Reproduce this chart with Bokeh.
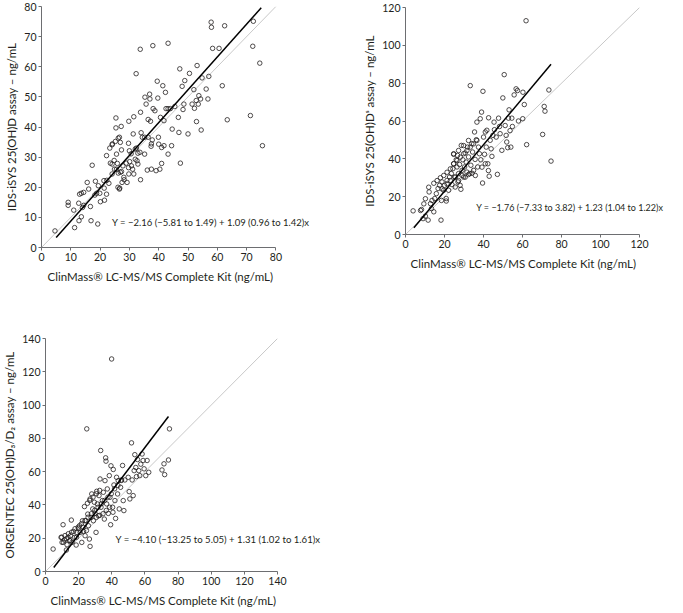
from bokeh.plotting import figure
from bokeh.layouts import column, row
from bokeh.models import Label, FixedTicker, Range1d, Title
from bokeh.embed import file_html
from bokeh.resources import INLINE

FONT = "Lato"

# ---------------- Panel 1: IDS-iSYS 25(OH)D ----------------
p1_x = [4.6, 9.1, 9.1, 11, 11.3, 12.7, 13, 13.6, 12.8, 13.6, 14, 14.4, 14.4, 15.6, 16.1, 16.7, 16.9, 17.3, 18.4, 19.2,
        18.8, 19.4, 20.1, 21.5, 21.3, 22.2, 22.2, 23, 23.3, 24.1, 24.1, 24.1, 24.9, 25.4, 25.4, 25.6, 25.9, 26.1, 26.6, 26.6,
        26.9, 27.2, 26.9, 27.5, 28.1, 29.2, 29.8, 29.8, 30, 30.1, 30.7, 31.3, 31.5, 31.5, 32, 32.3, 32.6, 32.9, 33.6, 33.7,
        33.8, 33.8, 34.4, 35.2, 35.3, 35.7, 36.1, 36.4, 36.9, 37, 37.2, 37.4, 37.5, 37.8, 38, 38.1, 38.7, 39.1, 39.5, 39.7,
        39.9, 40, 40.4, 40.6, 41, 41, 41.4, 41.8, 41.8, 42.3, 42.5, 43.2, 43.2, 43.2, 44, 44.4, 44.6, 45.5, 46.7, 46.9,
        47.2, 47.4, 48, 48.3, 48.6, 48.9, 50, 50.5, 51.4, 52, 52.2, 52.8, 52.9, 53.1, 53.5, 53.7, 54.3, 54.5, 54.8, 56.2,
        56.8, 57.1, 57.9, 58, 58.4, 60.6, 61.7, 62.5, 63.4, 71.3, 72.1, 72.3, 74.5, 75.4,
        23.5, 24.8, 25.6, 26.2, 27.3, 27.8, 28.9, 29.7, 30.6, 31.1, 32, 32.9, 28.2, 26.7, 22.3, 21.4, 19.9, 18.2,
        24.2, 25.2, 26.2, 27.3, 29.7, 32.4, 34, 35.2, 36.4, 37.5]
p1_y = [5.5, 15, 14, 12.4, 6.6, 14.7, 17.7, 18, 8.9, 10.2, 13.3, 14, 18.3, 21.6, 19.4, 13.6, 8.9, 27.3, 22, 7.8,
        18, 20.5, 15.2, 15.7, 22.2, 30.5, 17.7, 21.3, 33, 34.1, 27.7, 24.4, 26, 43, 39.7, 31, 27.9, 20, 19.4, 36.6,
        34.9, 40.2, 25, 21.6, 23.3, 21.6, 41.9, 24.4, 32.1, 28.5, 27.1, 37.7, 43.4, 24.4, 32.7, 57.7, 28.8, 27.7, 31.6, 65.8,
        44.9, 22.5, 36.6, 31, 49.9, 47.6, 25.7, 42.5, 50.9, 49.3, 41.9, 33.6, 26, 35.7, 67, 46.1, 45.4, 25.5, 55.2, 49.6,
        36.6, 34.3, 26, 43.2, 33.2, 27.9, 53.7, 42.1, 33.8, 51.5, 46.1, 67.8, 46.1, 31, 46.1, 33.8, 39.3, 46.8, 43.2, 38.2,
        59.3, 28, 53.5, 45.8, 47.6, 55.4, 37.7, 57.8, 47.6, 52.4, 46.2, 48.8, 41.8, 60.4, 47.6, 50.4, 49.3, 39, 56.3, 52.6,
        49.3, 56.8, 74.8, 73.1, 66.1, 66.1, 53.7, 73.6, 42.4, 43.8, 66.8, 75.1, 61.2, 33.8,
        28, 28.9, 26, 24.7, 25.2, 27.1, 28, 26.5, 31.1, 26, 29.3, 31.3, 22.5, 19.7, 22.3, 19.7, 18, 17.4,
        34.4, 35.2, 36.3, 32.4, 34.6, 33, 38.1, 36.6, 36.6, 34.4]
p1_intercept, p1_slope = -2.16, 1.09
p1_fit_x = [5, 75]

# ---------------- Panel 2: IDS-iSYS 25(OH)DS ----------------
p2_x = [3.9, 8.2, 9, 10.2, 11.6, 12.1, 12.8, 13.3, 13.6, 14.5, 15, 15.8, 16.7, 17.5, 18.2, 18.7, 18.4, 19.6, 20, 20.9,
        20.9, 21.3, 22.1, 22.6, 23.5, 23.8, 24.3, 24.7, 24.7, 25.2, 25.5, 26, 26.4, 26.7, 26.9, 27.2, 27.7, 28, 28.4, 28.6,
        29, 29.4, 29.8, 30.3, 30.6, 31.1, 31.5, 31.8, 32.3, 32.9, 33.2, 33.5, 34, 34.4, 34.9, 35.4, 35.7, 36.3, 36.6, 37,
        37.4, 37.9, 38.3, 38.6, 39, 39.5, 39.7, 40, 40.5, 40.9, 41.4, 41.7, 42.2, 42.6, 42.9, 43.4, 43.9, 44.3, 44.8, 45.4,
        45.6, 46.5, 47.1, 47.7, 48.2, 48.5, 49.4, 49.9, 50.6, 51.1, 51.6, 51.9, 52.4, 52.8, 53.1, 53.6, 54, 54.5, 54.8, 55.7,
        56.7, 57.4, 57.9, 60.2, 60.9, 61.8, 62.1, 60.1, 70.3, 71.1, 71.5, 73.5, 74.6,
        11.9, 14.5, 16.2, 17.9, 19.6, 21.3, 23, 24.7, 26.4, 28.1, 29.8, 31.5, 33.2, 34.9, 36.6, 25.5, 27.2, 29, 30.6, 32.3,
        34.1, 35.8, 21.3, 23, 18.7, 24.7, 27.2, 29.8, 32.3, 39.2, 40.9, 42.5, 7.7, 9.4, 10.2]
p2_y = [12.5, 13.2, 8.4, 9.7, 7.6, 22.5, 16.3, 13.7, 18, 12, 19, 21.6, 24.3, 26, 7.6, 27.8, 18, 23.4, 26, 19,
        17.7, 28.6, 23.4, 30.4, 32.2, 26.4, 34.8, 37.4, 42.4, 30.4, 25.1, 39.5, 35.7, 41.8, 27.8, 32.2, 37, 26, 23.9, 47.1,
        33.9, 39.5, 30.4, 35.7, 43.1, 38.3, 33, 46.2, 41, 32.2, 78.7, 36.6, 48, 43.6, 33.9, 54.2, 39.7, 50.1, 59.4, 35.7,
        46.2, 42.7, 61.2, 39.5, 64.7, 27.2, 75.7, 51.5, 42.4, 54.2, 46.2, 55.1, 37.4, 61.7, 30.8, 49.8, 45.3, 41.3, 52.4, 59.4,
        55.4, 51.5, 31.8, 61.5, 57.1, 53.3, 44.5, 72.2, 84.5, 57.6, 52.4, 48.9, 45.9, 61.5, 65.9, 54.9, 46.2, 61.5, 57.1, 73.8,
        77, 76.1, 60, 75.2, 68.7, 113, 47.5, 61.2, 52.9, 67.7, 65.2, 76.4, 38.8,
        25, 27.1, 28.5, 30, 31.2, 32.9, 34.7, 37.4, 39.1, 40.9, 42.7, 44.4, 46.2, 47.9, 49.7, 30.3, 28.5, 31.2, 30.3, 31.7,
        32.4, 31.2, 26.8, 28.5, 24.1, 42.7, 44.4, 47, 49.7, 35.6, 37.4, 33.8, 12.7, 16.2, 18.9]
p2_intercept, p2_slope = -1.76, 1.23
p2_fit_x = [4.3, 74.6]

# ---------------- Panel 3: ORGENTEC 25(OH)D3/D2 ----------------
p3_x = [4.6, 10.6, 9.4, 10, 11.4, 12.6, 13, 13.6, 14.6, 15, 15.6, 16, 16.9, 17.6, 18.5, 18.9, 19.9, 20.5, 20.9, 21.9,
        22.3, 22.9, 23.5, 23.9, 24.3, 24.9, 25.3, 25.5, 25.9, 26.5, 26.9, 26.9, 27.5, 27.9, 28.5, 28.9, 29.5, 29.9, 30.5, 30.9,
        31.3, 31.9, 32.3, 32.9, 33.3, 33.5, 34.3, 34.9, 35.5, 35.9, 36.3, 36.5, 36.9, 37.3, 37.9, 38.5, 38.9, 39.3, 39.5, 39.9,
        40.5, 40.9, 41.3, 41.9, 42.3, 42.9, 43.5, 43.9, 44.5, 45.3, 45.9, 46.5, 46.9, 47.3, 47.9, 49.9, 50.5, 50.9, 51.9, 52.3,
        52.9, 53.5, 53.9, 54.5, 54.9, 55.5, 56.3, 56.9, 57.5, 58.3, 58.9, 59.5, 60.5, 61.3, 62.3, 70.3, 71.5, 71.9, 74.2, 74.8,
        9.8, 11.8, 13.8, 15.7, 17.8, 19.7, 21.7, 23.8, 25.7, 27.7, 29.7, 31.7, 33.7, 35.7, 37.7, 39.7, 41.7, 43.7, 45.7,
        26.7, 28.7, 30.7, 32.7, 30.7, 32.7, 34.7, 36.7, 38.7, 40.7, 22.7, 24.7, 18.7, 14.8, 12.7, 10.8]
p3_y = [13.5, 28.1, 20.5, 17.5, 18.9, 12.9, 16.1, 20.5, 18.5, 21.5, 30.9, 17.5, 24.1, 20.5, 15.9, 23.5, 25.9, 27.5, 23.5, 17.5,
        30.5, 24.1, 39, 21.5, 30.5, 85.7, 41, 34.5, 27.5, 19.5, 15.1, 43.6, 32.5, 46.6, 37.6, 30.5, 41.6, 34.9, 23.5, 48.2,
        40.6, 33.5, 45.6, 55.6, 72.7, 38.6, 42.6, 47.6, 31.5, 54.6, 68.3, 66.3, 40.6, 49.6, 34.9, 57.6, 44.6, 28.1, 63.5, 127.7,
        38.6, 61.3, 52, 42.6, 31.9, 56.6, 46.6, 54.6, 37.6, 50.6, 55, 63.7, 42.6, 36.6, 55, 56.6, 48, 43.6, 77.3, 55,
        45.6, 60.6, 70.2, 62.5, 57, 67.3, 60.6, 57.6, 64.5, 70.6, 66.7, 61.7, 57.6, 66.7, 59.6, 61, 64.7, 58.2, 67, 85.7,
        20.6, 21.6, 22.7, 23.6, 25.7, 26.6, 28.7, 30.6, 32.6, 34.7, 36.7, 38.6, 40.7, 42.7, 44.7, 46.7, 49.7, 51.7, 54.7,
        42.7, 44.7, 46.7, 48.7, 32.6, 33.7, 34.7, 36.7, 38.6, 35.6, 26.6, 24.6, 20.6, 18.6, 19.7, 17.6]
p3_intercept, p3_slope = -4.10, 1.31
p3_fit_x = [5, 74.2]

X_TITLE = "ClinMass\u00ae LC-MS/MS Complete Kit (ng/mL)"
Y_TITLES = ["IDS-iSYS 25(OH)D assay \u2013 ng/mL",
            "IDS-iSYS 25(OH)D\u02e2 assay \u2013 ng/mL",
            "ORGENTEC 25(OH)D\u2083/D\u2082 assay \u2013 ng/mL"]
EQUATIONS = ["Y = \u22122.16 (\u22125.81 to 1.49) + 1.09 (0.96 to 1.42)x",
             "Y = \u22121.76 (\u22127.33 to 3.82) + 1.23 (1.04 to 1.22)x",
             "Y = \u22124.10 (\u221213.25 to 5.05) + 1.31 (1.02 to 1.61)x"]
AXIS_MAX = [80, 120, 140]
TICK_STEP = [10, 20, 20]


def make_panel(width, height, borders, amax, xview, step, xs, ys, b0, b1, fit_x, ytitle,
               eq, eqx, eqy, eq_size, title_off):
    left, right, top, bottom = borders
    p = figure(width=width, height=height, x_range=Range1d(0, xview), y_range=Range1d(0, amax),
               output_backend="svg", toolbar_location=None, frame_align=False,
               min_border_left=left, min_border_right=right, min_border_top=top, min_border_bottom=bottom)
    p.grid.visible = False
    p.outline_line_color = None
    p.background_fill_color = "white"
    ticks = list(range(0, amax + 1, step))
    for ax in (p.xaxis[0], p.yaxis[0]):
        ax.ticker = FixedTicker(ticks=ticks)
        ax.axis_line_color = "#6d6e71"
        ax.axis_line_width = 1
        ax.major_tick_line_color = "#6d6e71"
        ax.major_tick_out = 3
        ax.major_tick_in = 0
        ax.minor_tick_line_color = None
        ax.major_label_text_font = FONT
        ax.major_label_text_font_size = "10.5px"
        ax.major_label_text_color = "#231f20"
        ax.major_label_standoff = 2
        ax.axis_label_text_font = FONT
        ax.axis_label_text_font_size = "11.5px"
        ax.axis_label_text_font_style = "normal"
        ax.axis_label_text_color = "#231f20"
    p.xaxis.bounds = (0, amax)
    p.yaxis.axis_label = ytitle
    p.yaxis.axis_label_standoff = 3
    p.add_layout(Title(text=X_TITLE, align="left", offset=title_off, text_font=FONT,
                       text_font_size="11.5px", text_font_style="normal", text_color="#231f20",
                       standoff=8), "below")

    p.line([0, amax], [0, amax], line_color="#c8c8c8", line_width=1)
    p.scatter(xs, ys, marker="circle", size=4.5, fill_color=None,
              line_color="#231f20", line_width=0.8)
    fit_y = [b0 + b1 * x for x in fit_x]
    p.line(fit_x, fit_y, line_color="black", line_width=1.5)
    p.add_layout(Label(x=eqx, y=eqy, text=eq, text_font=FONT, text_font_size=eq_size,
                       text_color="#231f20", text_baseline="middle", text_align="left"))
    return p


# frame widths keep the reference scale; the frames run wider than the axes so the equations fit
p1 = make_panel(340, 330, (41, 6, 6, 83), AXIS_MAX[0], 100, TICK_STEP[0], p1_x, p1_y,
                p1_intercept, p1_slope, p1_fit_x, Y_TITLES[0], EQUATIONS[0], 24.1, 8.4, "9.5px", 6)
p2 = make_panel(342, 330, (65, 0, 7, 96), AXIS_MAX[1], 142, TICK_STEP[1], p2_x, p2_y,
                p2_intercept, p2_slope, p2_fit_x, Y_TITLES[1], EQUATIONS[1], 36.3, 14.4, "9px", 5)
p3 = make_panel(340, 283, (42, 5, 8, 42), AXIS_MAX[2], 175, TICK_STEP[2], p3_x, p3_y,
                p3_intercept, p3_slope, p3_fit_x, Y_TITLES[2], EQUATIONS[2], 42.3, 19, "9.6px", 5)

layout = column(row(p1, p2), p3)
open("out.html", "w").write(file_html(layout, INLINE))
